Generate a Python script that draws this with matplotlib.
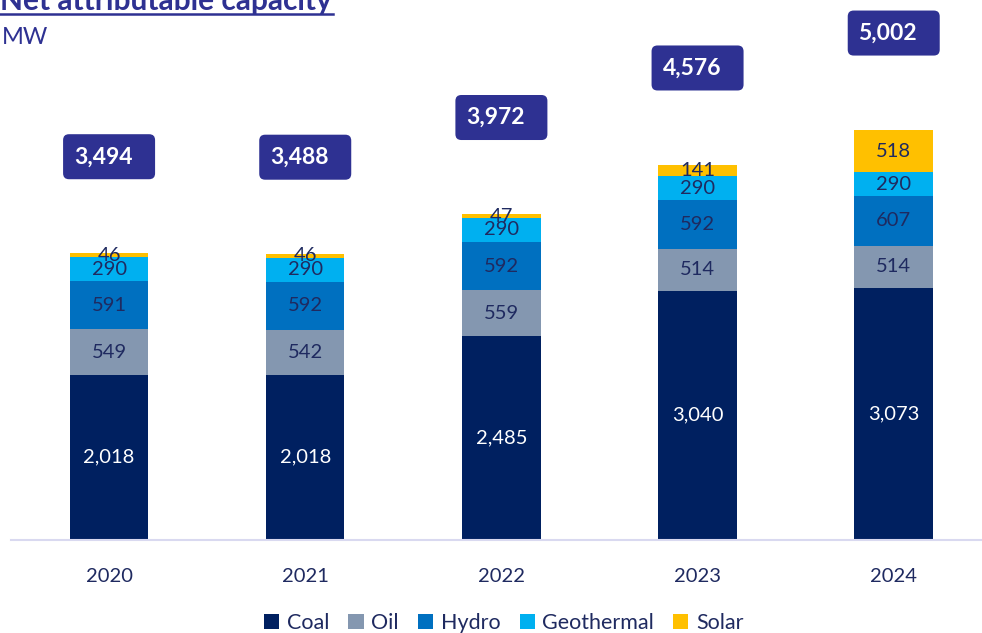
import matplotlib
matplotlib.use("Agg")
import matplotlib.pyplot as plt
from matplotlib.patches import FancyBboxPatch
import numpy as np

plt.rcParams['font.family'] = ['Lato', 'DejaVu Sans']

years = ['2020', '2021', '2022', '2023', '2024']
coal = [2018, 2018, 2485, 3040, 3073]
oil = [549, 542, 559, 514, 514]
hydro = [591, 592, 592, 592, 607]
geothermal = [290, 290, 290, 290, 290]
solar = [46, 46, 47, 141, 518]
totals = [3494, 3488, 3972, 4576, 5002]

series = [('Coal', coal, '#002060'), ('Oil', oil, '#8497B0'),
          ('Hydro', hydro, '#0070C0'), ('Geothermal', geothermal, '#00B0F0'),
          ('Solar', solar, '#FFC000')]

navy = '#1F2A60'
box_col = '#2E3192'

fig = plt.figure(figsize=(9.82, 6.33), dpi=100)
ax = fig.add_axes([11/982, 93/633, 971/982, 540/633])

x = np.arange(len(years))
bottom = np.zeros(len(years))
for name, vals, col in series:
    ax.bar(x, vals, width=0.4, bottom=bottom, color=col, label=name, zorder=2)
    for xi, b, v in zip(x, bottom, vals):
        ax.text(xi, b + v / 2, f"{v:,}", ha='center', va='center', fontsize=14.5,
                color='white' if name == 'Coal' else navy, zorder=3)
    bottom += np.array(vals)

# total boxes above each bar
bw, bh = 0.469, 549
for xi, t in zip(x, totals):
    yc = t + 1180
    box = FancyBboxPatch((xi - bw / 2, yc - bh / 2), bw, bh,
                         boxstyle="round,pad=0,rounding_size=0.03",
                         mutation_aspect=2393,
                         fc=box_col, ec='none', zorder=3, clip_on=False)
    ax.add_patch(box)
    ax.text(xi - 0.03, yc, f"{t:,}", ha='center', va='center', fontsize=16.5,
            fontweight='bold', color='white', zorder=4)

ax.set_xlim(-0.5, 4.45)
ax.set_ylim(0, 6585)
for s in ['top', 'right', 'left']:
    ax.spines[s].set_visible(False)
ax.spines['bottom'].set_color('#D9D9F0')
ax.spines['bottom'].set_linewidth(1.5)
ax.set_yticks([])
ax.set_xticks(x)
ax.set_xticklabels(years, fontsize=14.5, color=navy)
ax.tick_params(axis='x', length=0, pad=20)

fig.text(0.0, 1 - 10/633, 'Net attributable capacity', fontsize=21.5, fontweight='bold',
         color=box_col, va='baseline', ha='left')
fig.lines.append(plt.Line2D([0.0, 333/982], [1 - 14/633, 1 - 14/633],
                            transform=fig.transFigure, color=box_col, lw=1.8))
fig.text(0.002, 1 - 44/633, 'MW', fontsize=17, color=box_col, va='baseline', ha='left')

fig.legend(loc='center', bbox_to_anchor=(0.513, 1 - 623/633), ncol=5, frameon=False,
           fontsize=15.5, handlelength=0.7, handleheight=0.7, handletextpad=0.35,
           columnspacing=0.9, labelcolor=navy)

fig.savefig('out.png', dpi=100)
